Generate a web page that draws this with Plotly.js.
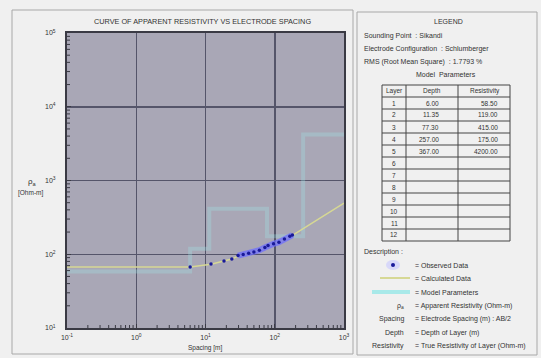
<!DOCTYPE html>
<html>
<head>
<meta charset="utf-8">
<script src="https://cdn.plot.ly/plotly-3.0.1.min.js"></script>
<style>html,body{margin:0;padding:0;background:#f0f0f0;}#chart{width:541px;height:358px;}</style>
</head>
<body>
<div id="chart"></div>
<script>
// ---- data ----
const obsSpacing = [6, 12, 18.5, 24, 29.5, 35, 42, 50, 60, 72, 80, 96, 115, 138, 165, 180];
const obsRho     = [67, 73.8, 81, 86, 96, 99, 103, 107, 113.5, 123.6, 131.5, 138.6, 145.6, 161, 175, 182];
const calcSpacing = [0.1, 1, 3, 6, 12, 18.5, 24, 30, 50, 80, 120, 180, 300, 500, 1000];
const calcRho     = [67, 67, 67, 67, 73, 80, 86, 95, 107, 131, 148, 180, 244, 331, 495];
const layerNo     = ["1","2","3","4","5","6","7","8","9","10","11","12"];
const layerDepth  = [6.00, 11.35, 77.30, 257.00, 367.00];
const layerRes    = [58.50, 119.00, 415.00, 175.00, 4200.00];
const modelSpacing = [0.1, 6.00, 11.35, 77.30, 257.00, 1000];
const modelRho     = [58.50, 119.00, 415.00, 175.00, 4200.00, 4200.00];
const xTickVals = [0.1, 1, 10, 100, 1000];
const xTickText = ["10<sup>-1</sup>", "10<sup>0</sup>", "10<sup>1</sup>", "10<sup>2</sup>", "10<sup>3</sup>"];
const yTickVals = [10, 100, 1000, 10000, 100000];
const yTickText = ["10<sup>1</sup>", "10<sup>2</sup>", "10<sup>3</sup>", "10<sup>4</sup>", "10<sup>5</sup>"];
const legendLines = [
  ["", "= Observed Data"],
  ["", "= Calculated Data"],
  ["", "= Model Parameters"],
  ["ρ<sub>a</sub>", "= Apparent Resistivity (Ohm-m)"],
  ["Spacing", "= Electrode Spacing (m) : AB/2"],
  ["Depth", "= Depth of Layer (m)"],
  ["Resistivity", "= True Resistivity of Layer (Ohm-m)"]
];

// ---- helpers ----
const W = 541, H = 358;
const px = x => x / W;
const py = y => 1 - y / H;
const FONT = "Liberation Sans, Arial, sans-serif";
const TXT = "#333333";
const PL = 67, PR = 344, PT = 33, PB = 328;

const traces = [
  {x: modelSpacing, y: modelRho, mode: "lines", line: {shape: "hv", color: "rgba(160,232,232,0.3)", width: 4}, hoverinfo: "skip"},
  {x: calcSpacing, y: calcRho, mode: "lines", line: {color: "#d6d894", width: 1.5}, hoverinfo: "skip"},
  {x: obsSpacing.slice(4), y: obsRho.slice(4), mode: "lines", line: {color: "rgba(110,110,255,0.75)", width: 6}, hoverinfo: "skip"},
  {x: obsSpacing, y: obsRho, mode: "markers", marker: {color: "#1a1a9a", size: 3.5}}
];

const ann = [];
function T(x, y, text, size, anchor, color) {
  ann.push({xref: "paper", yref: "paper", x: px(x), y: py(y), text: text, showarrow: false,
    xanchor: anchor || "center", yanchor: "middle", font: {family: FONT, size: size || 7, color: color || TXT}});
}
T(202, 22, "CURVE OF APPARENT RESISTIVITY VS ELECTRODE SPACING", 7.3);
T(32, 182, "ρ<sub>a</sub>", 8);
T(30, 193, "[Ohm-m]", 6.5);
T(205, 348, "Spacing [m]", 6.5);

T(448, 22, "LEGEND", 7);
T(362, 36, "Sounding Point  : Sikandi", 7, "left");
T(362, 49, "Electrode Configuration  : Schlumberger", 7, "left");
T(362, 62, "RMS (Root Mean Square)  : 1.7793 %", 7, "left");
T(446, 75, "Model  Parameters", 7);
T(394, 91, "Layer", 6.5);
T(432, 91, "Depth", 6.5);
T(485, 91, "Resistivity", 6.5);
layerNo.forEach((n, i) => {
  const yy = 103 + 12 * i;
  T(394, yy, n, 6.5);
  if (i < layerDepth.length) {
    T(441, yy, layerDepth[i].toFixed(2), 6.5, "right");
    T(500, yy, layerRes[i].toFixed(2), 6.5, "right");
  }
});
T(362, 252, "Description :", 7, "left");
legendLines.forEach((l, i) => {
  const yy = 265 + 13.5 * i;
  if (l[0]) T(406, yy, l[0], 7, "right");
  T(413, yy, l[1], 7, "left");
});

const shapes = [];
shapes.push({type: "rect", xref: "paper", yref: "paper", x0: px(12), x1: px(353), y0: py(354), y1: py(10), line: {color: "#a8a8a8", width: 1}});
shapes.push({type: "rect", xref: "paper", yref: "paper", x0: px(357), x1: px(537), y0: py(355), y1: py(12), line: {color: "#a8a8a8", width: 1}});
// minor axis ticks (inside, at 2..9 of each decade)
for (let d = 0; d < 4; d++) {
  for (let m = 2; m <= 9; m++) {
    const f = (d + Math.log10(m)) / 4;
    const xx = PL + f * (PR - PL);
    shapes.push({type: "line", xref: "paper", yref: "paper", x0: px(xx), x1: px(xx), y0: py(PB), y1: py(PB - 3), line: {color: "#3a3a44", width: 1}});
    const yy = PB - f * (PB - PT);
    shapes.push({type: "line", xref: "paper", yref: "paper", x0: px(PL), x1: px(PL + 3), y0: py(yy), y1: py(yy), line: {color: "#3a3a44", width: 1}});
  }
}
// table grid
const tTop = 85, rowH = 12, nRows = layerNo.length + 1;
const tBot = tTop + rowH * nRows;
[382, 406, 458, 510].forEach(x => shapes.push({type: "line", xref: "paper", yref: "paper", x0: px(x), x1: px(x), y0: py(tTop), y1: py(tBot), line: {color: "#444", width: 1}}));
for (let r = 0; r <= nRows; r++) {
  const y = tTop + rowH * r;
  shapes.push({type: "line", xref: "paper", yref: "paper", x0: px(382), x1: px(510), y0: py(y), y1: py(y), line: {color: "#444", width: 1}});
}
// description glyphs
shapes.push({type: "circle", xref: "paper", yref: "paper", x0: px(386), x1: px(400), y0: py(270), y1: py(260), fillcolor: "rgba(200,200,255,0.6)", line: {width: 0}});
shapes.push({type: "circle", xref: "paper", yref: "paper", x0: px(391), x1: px(395), y0: py(267), y1: py(263), fillcolor: "#1a1a9a", line: {width: 0}});
shapes.push({type: "line", xref: "paper", yref: "paper", x0: px(380), x1: px(410), y0: py(278), y1: py(278), line: {color: "#d6d894", width: 2}});
shapes.push({type: "line", xref: "paper", yref: "paper", x0: px(372), x1: px(410), y0: py(292), y1: py(292), line: {color: "rgba(160,232,232,0.9)", width: 4}});

const axisCommon = {
  type: "log", showline: true, mirror: true, linecolor: "#3a3a44", linewidth: 2,
  showgrid: true, gridcolor: "#55556a", gridwidth: 1.5, zeroline: false,
  ticks: "inside", ticklen: 4, tickcolor: "#3a3a44", tickmode: "array",
  tickfont: {family: FONT, size: 7, color: TXT}
};

const layout = {
  width: W, height: H, margin: {l: 0, r: 0, t: 0, b: 0},
  paper_bgcolor: "#f0f0f0", plot_bgcolor: "#a9a7b6", showlegend: false,
  xaxis: Object.assign({}, axisCommon, {domain: [px(PL), px(PR)], range: [-1, 3], tickvals: xTickVals, ticktext: xTickText, ticklabelstandoff: 2}),
  yaxis: Object.assign({}, axisCommon, {domain: [py(PB), py(PT)], range: [1, 5], tickvals: yTickVals, ticktext: yTickText, ticklabelstandoff: 8}),
  annotations: ann, shapes: shapes
};

Plotly.newPlot("chart", traces, layout, {staticPlot: true, displayModeBar: false});
</script>
</body>
</html>
